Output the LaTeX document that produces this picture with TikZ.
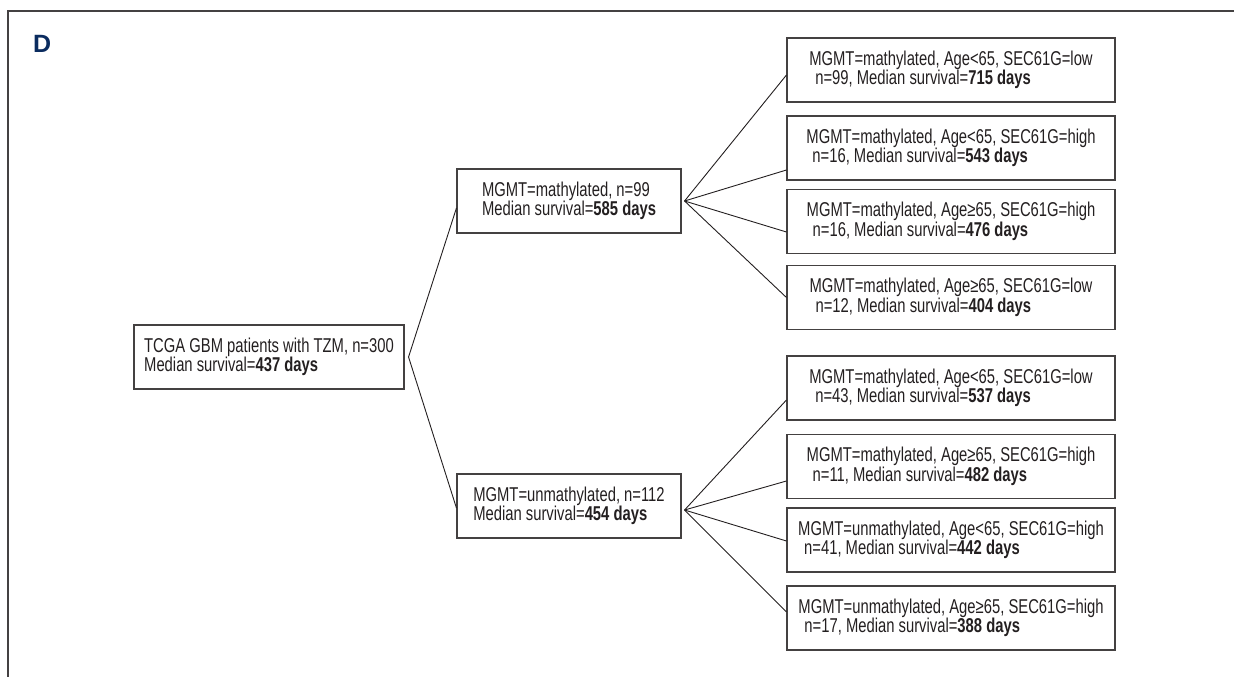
\documentclass[tikz,border=0pt]{standalone}
\usepackage{fontspec}
\setmainfont{Liberation Sans}[FakeStretch=0.74]
\newfontfamily\panelfont{Liberation Sans}
\usetikzlibrary{calc}
\definecolor{panelblue}{HTML}{0B2C5F}
\definecolor{inkgray}{HTML}{231F20}

\begin{document}
\begin{tikzpicture}[x=1pt, y=-1pt,
    box/.style={draw=inkgray!85, line width=1.1pt, inner sep=0pt, minimum height=64pt,
      align=left, text=inkgray, font=\fontsize{20pt}{19.5pt}\selectfont},
    rootbox/.style={box, minimum width=270pt},
    midbox/.style={box, minimum width=224pt},
    leafbox/.style={box, minimum width=328pt},
    link/.style={draw=inkgray, line width=0.9pt}]
  \useasboundingbox (0,0) rectangle (1234,677);
  \draw[inkgray!85, line width=1.2pt] (8,677) -- (8,11) -- (1234,11);
  \node[anchor=base west, inner sep=0pt, text=panelblue,
    font=\panelfont\bfseries\fontsize{25pt}{25pt}\selectfont] (panel) at (33,53) {D};

  % root and first split
  \node[rootbox] (root) at (269,357) {TCGA GBM patients with TZM, n=300\\Median survival=\textbf{437 days}};
  \node[midbox] (mu) at (569,201) {MGMT=mathylated, n=99\\Median survival=\textbf{585 days}};
  \node[midbox] (ml) at (569,506) {MGMT=unmathylated, n=112\\Median survival=\textbf{454 days}};

  % leaves
  \node[leafbox] (r1) at (951,70) {MGMT=mathylated, Age<65, SEC61G=low\\\hspace*{.3em}n=99, Median survival=\textbf{715 days}};
  \node[leafbox] (r2) at (951,148) {MGMT=mathylated, Age<65, SEC61G=high\\\hspace*{.3em}n=16, Median survival=\textbf{543 days}};
  \node[leafbox] (r3) at (951,221.5) {MGMT=mathylated, Age≥65, SEC61G=high\\\hspace*{.3em}n=16, Median survival=\textbf{476 days}};
  \node[leafbox] (r4) at (951,297.5) {MGMT=mathylated, Age≥65, SEC61G=low\\\hspace*{.3em}n=12, Median survival=\textbf{404 days}};
  \node[leafbox] (r5) at (951,388) {MGMT=mathylated, Age<65, SEC61G=low\\\hspace*{.3em}n=43, Median survival=\textbf{537 days}};
  \node[leafbox] (r6) at (951,466.5) {MGMT=mathylated, Age≥65, SEC61G=high\\\hspace*{.3em}n=11, Median survival=\textbf{482 days}};
  \node[leafbox] (r7) at (951,540) {MGMT=unmathylated, Age<65, SEC61G=high\\\hspace*{.3em}n=41, Median survival=\textbf{442 days}};
  \node[leafbox] (r8) at (951,618) {MGMT=unmathylated, Age≥65, SEC61G=high\\\hspace*{.3em}n=17, Median survival=\textbf{388 days}};

  % fan points
  \coordinate (rootfan) at ($(root.east)+(4,0)$);
  \coordinate (mufan) at ($(mu.east)+(3,0)$);
  \coordinate (mlfan) at ($(ml.east)+(3,4)$);

  \draw[link] ($(mu.west)+(0,7)$) -- (rootfan) -- ($(ml.west)+(0,2)$);
  \foreach \leaf/\dy in {r1/5, r2/22, r3/10.5, r4/0}
    \draw[link] (mufan) -- ($(\leaf.west)+(0,\dy)$);
  \foreach \leaf/\dy in {r5/12, r6/14.5, r7/1, r8/-6}
    \draw[link] (mlfan) -- ($(\leaf.west)+(0,\dy)$);
\end{tikzpicture}
\end{document}
